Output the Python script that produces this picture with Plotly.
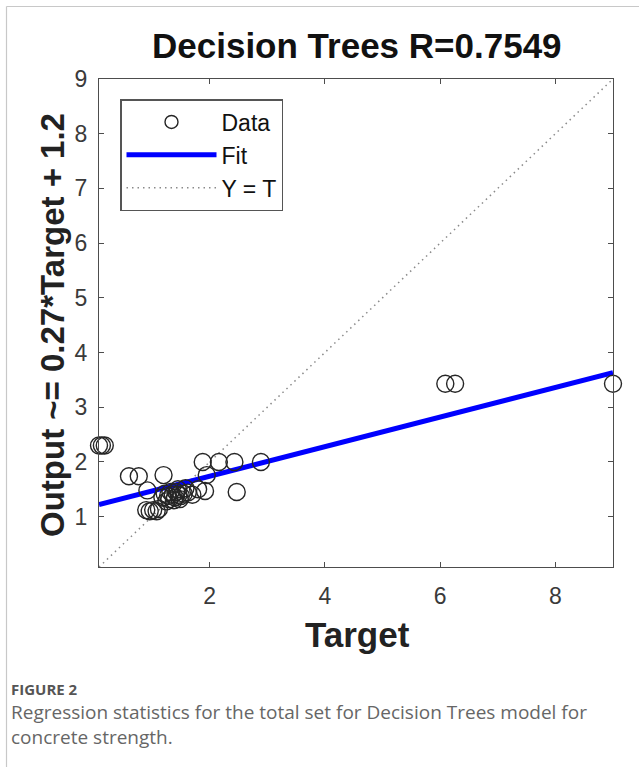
import plotly.graph_objects as go

# ---- data ----
target = [0.08, 0.13, 0.18,
          0.60, 0.77, 0.92,
          0.90, 0.96, 1.02, 1.08, 1.12,
          1.20,
          1.22, 1.28, 1.32, 1.36, 1.40, 1.42, 1.46, 1.50, 1.55, 1.62,
          1.30, 1.38, 1.48, 1.25, 1.18, 1.70, 1.58, 1.45,
          1.80, 1.92,
          1.88, 2.16, 2.43, 2.89,
          1.95, 2.47,
          6.09, 6.26, 9.00]
output = [2.30, 2.30, 2.30,
          1.74, 1.74, 1.48,
          1.12, 1.10, 1.12, 1.10, 1.14,
          1.76,
          1.42, 1.38, 1.45, 1.40, 1.35, 1.45, 1.40, 1.38, 1.42, 1.44,
          1.32, 1.30, 1.32, 1.28, 1.35, 1.40, 1.52, 1.50,
          1.50, 1.47,
          2.00, 2.00, 2.00, 2.00,
          1.76, 1.45,
          3.43, 3.43, 3.43]
fit_slope = 0.27
fit_intercept = 1.2
r_value = 0.7549
x_ticks = [2, 4, 6, 8]
y_ticks = [1, 2, 3, 4, 5, 6, 7, 8, 9]

lo = min(min(target), min(output))
hi = max(max(target), max(output))

W, H = 639, 767
L, R, T, B = 99, 613, 79, 567


def px(xp):
    return (xp - L) / (R - L)


def py(yp):
    return (B - yp) / (B - T)


fig = go.Figure()

# Y = T line
fig.add_trace(go.Scatter(x=[lo, hi], y=[lo, hi], mode="lines",
                         line=dict(color="#8a8a8a", width=1.5, dash="1.5px,4px"),
                         showlegend=False, hoverinfo="skip"))
# Fit line
fig.add_trace(go.Scatter(x=[lo, hi], y=[fit_slope * lo + fit_intercept, fit_slope * hi + fit_intercept],
                         mode="lines", line=dict(color="#0000ff", width=5),
                         showlegend=False, hoverinfo="skip"))
# Data
fig.add_trace(go.Scatter(x=target, y=output, mode="markers", cliponaxis=False,
                         marker=dict(symbol="circle-open", size=17, color="#262626",
                                     line=dict(width=1.4, color="#262626")),
                         showlegend=False))

# legend-only traces
fig.add_trace(go.Scatter(x=[None], y=[None], mode="markers", name="Data", legendgroup="a",
                         marker=dict(symbol="circle-open", size=13, color="#262626",
                                     line=dict(width=1.4, color="#262626"))))
fig.add_trace(go.Scatter(x=[None], y=[None], mode="lines", name="Fit", legendgroup="b",
                         line=dict(color="#0000ff", width=5)))
fig.add_trace(go.Scatter(x=[None], y=[None], mode="lines", name="Y = T", legendgroup="c",
                         line=dict(color="#8a8a8a", width=1.5, dash="1.5px,4px")))

axis_common = dict(range=[lo, hi], showgrid=False, zeroline=False, showline=True,
                   linecolor="#4d4d4d", linewidth=1.2, mirror="ticks", ticks="inside",
                   ticklen=5, tickwidth=1.2, tickcolor="#4d4d4d",
                   tickfont=dict(family="Liberation Sans", size=23, color="#3a3a3a"))

fig.update_xaxes(**axis_common, tickvals=x_ticks, ticklabelstandoff=8)
fig.update_yaxes(**axis_common, tickvals=y_ticks, ticklabelstandoff=6)

ann = []
ann.append(dict(text=f"<b>Decision Trees R={r_value}</b>", x=px(357), y=py(46),
                font=dict(family="Liberation Sans", size=35, color="#111111")))
ann.append(dict(text="<b>Target</b>", x=px(357), y=py(634),
                font=dict(family="Liberation Sans", size=35, color="#222222")))
ann.append(dict(text=f"<b>Output ~= {fit_slope}*Target + {fit_intercept}</b>", x=px(52), y=py(325),
                textangle=-90, font=dict(family="Liberation Sans", size=33, color="#222222")))
ann.append(dict(text="<b>FIGURE 2</b>", x=px(9), y=py(689), xanchor="left",
                font=dict(family="Open Sans", size=15, color="#555555")))
ann.append(dict(text="Regression statistics for the total set for Decision Trees model for",
                x=px(9), y=py(712), xanchor="left",
                font=dict(family="Open Sans", size=19, color="#666666")))
ann.append(dict(text="concrete strength.",
                x=px(9), y=py(737), xanchor="left",
                font=dict(family="Open Sans", size=19, color="#666666")))
for a in ann:
    a.setdefault("xanchor", "center")
    a.update(xref="paper", yref="paper", yanchor="middle", showarrow=False)

shapes = [
    dict(type="line", xref="paper", yref="paper", x0=px(6.5), x1=px(6.5), y0=py(6.5), y1=py(767),
         line=dict(color="#c8c8c8", width=1.2)),
    dict(type="line", xref="paper", yref="paper", x0=px(6.5), x1=px(639), y0=py(6.5), y1=py(6.5),
         line=dict(color="#c8c8c8", width=1.2)),
]

fig.update_layout(
    width=W, height=H, autosize=False,
    margin=dict(l=L, r=W - R, t=T, b=H - B),
    paper_bgcolor="white", plot_bgcolor="white",
    annotations=ann, shapes=shapes,
    legend=dict(x=px(120), y=py(99), xanchor="left", yanchor="top",
                bgcolor="white", bordercolor="#555555", borderwidth=1.5,
                font=dict(family="Liberation Sans", size=23, color="#111111"),
                itemwidth=90, entrywidth=80, tracegroupgap=2, traceorder="normal"),
)

fig.write_html("out.html", config={"displayModeBar": False},
               post_script="document.body.style.margin='0';document.body.style.overflow='hidden';")
